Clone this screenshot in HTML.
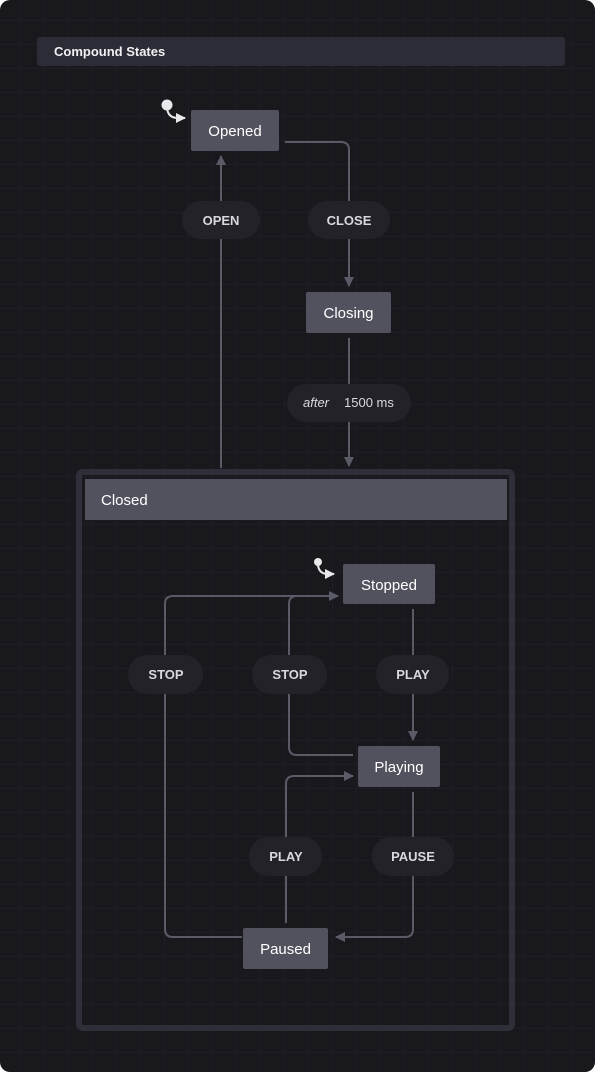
<!DOCTYPE html>
<html><head><style>
html,body{margin:0;padding:0;background:#fff;}
svg{display:block;}
text{font-family:"Liberation Sans",sans-serif;}
</style></head><body>
<svg width="595" height="1072" viewBox="0 0 595 1072" xmlns="http://www.w3.org/2000/svg">
<defs>
<pattern id="g" width="24" height="24" patternUnits="userSpaceOnUse" x="20" y="20">
<path d="M0 0H24M0 0V24" stroke="#23232b" stroke-width="1" fill="none"/>
</pattern>
<marker id="a" markerWidth="10" markerHeight="10" refX="9" refY="5" orient="auto" markerUnits="userSpaceOnUse">
<path d="M0 0L10 5L0 10z" fill="#5b5b68"/></marker>
<marker id="w" markerWidth="10" markerHeight="10" refX="9" refY="5" orient="auto" markerUnits="userSpaceOnUse">
<path d="M0 0L10 5L0 10z" fill="#e8e8ec"/></marker>
</defs>
<rect width="595" height="1072" rx="10" fill="#18181d"/>
<rect width="595" height="1072" rx="10" fill="url(#g)"/>
<rect x="37" y="37" width="528" height="29" rx="3" fill="#2c2c37"/>
<text x="54" y="56" fill="#f0f0f3" font-size="13" font-weight="bold">Compound States</text>

<g fill="none" stroke="#5b5b68" stroke-width="2">
<path d="M285 142H341Q349 142 349 150V286" marker-end="url(#a)"/>
<path d="M221 468V156" marker-end="url(#a)"/>
<path d="M349 338V466" marker-end="url(#a)"/>
<path d="M413 609V740" marker-end="url(#a)"/>
<path d="M413 792V929Q413 937 405 937H336" marker-end="url(#a)"/>
<path d="M286 923V784Q286 776 294 776H353" marker-end="url(#a)"/>
<path d="M242 937H173Q165 937 165 929V604Q165 596 173 596H338" marker-end="url(#a)"/>
<path d="M353 755H297Q289 755 289 747V604Q289 596 297 596"/>
</g>
<g fill="none" stroke="#e8e8ec" stroke-width="2">
<path d="M167 108Q168 118 178 118H185" marker-end="url(#w)"/>
<path d="M318 565Q319 574 328 574H334" marker-end="url(#w)"/>
</g>
<circle cx="167" cy="105" r="5.5" fill="#e8e8ec"/>
<circle cx="318" cy="562" r="4" fill="#e8e8ec"/>

<rect x="191" y="110" width="88" height="41" rx="2" fill="#52525e"/>
<text x="235" y="136" fill="#fff" font-size="15" text-anchor="middle">Opened</text>
<rect x="306" y="292" width="85" height="41" rx="2" fill="#52525e"/>
<text x="348.5" y="318" fill="#fff" font-size="15" text-anchor="middle">Closing</text>

<rect x="79" y="472" width="433" height="556" rx="4" fill="none" stroke="#2f2f3a" stroke-width="6"/>
<rect x="85" y="479" width="422" height="41" fill="#52525e"/>
<text x="101" y="505" fill="#fff" font-size="15">Closed</text>

<rect x="343" y="564" width="92" height="40" rx="2" fill="#52525e"/>
<text x="389" y="590" fill="#fff" font-size="15" text-anchor="middle">Stopped</text>
<rect x="358" y="746" width="82" height="41" rx="2" fill="#52525e"/>
<text x="399" y="772" fill="#fff" font-size="15" text-anchor="middle">Playing</text>
<rect x="243" y="928" width="85" height="41" rx="2" fill="#52525e"/>
<text x="285.5" y="954" fill="#fff" font-size="15" text-anchor="middle">Paused</text>

<g fill="#222228">
<rect x="182" y="201" width="78" height="38" rx="19"/>
<rect x="308" y="201" width="82" height="38" rx="19"/>
<rect x="287" y="384" width="124" height="38" rx="19"/>
<rect x="128" y="655" width="75" height="39" rx="19"/>
<rect x="252" y="655" width="75" height="39" rx="19"/>
<rect x="376" y="655" width="73" height="39" rx="19"/>
<rect x="249" y="837" width="73" height="39" rx="19"/>
<rect x="372" y="837" width="82" height="39" rx="19"/>
</g>
<g fill="#d8d8de" font-size="13" font-weight="bold" text-anchor="middle">
<text x="221" y="225">OPEN</text>
<text x="349" y="225">CLOSE</text>
<text x="166" y="679">STOP</text>
<text x="290" y="679">STOP</text>
<text x="413" y="679">PLAY</text>
<text x="286" y="861">PLAY</text>
<text x="413" y="861">PAUSE</text>
</g>
<text x="303" y="407" fill="#d8d8de" font-size="13" font-style="italic">after</text>
<text x="344" y="407" fill="#d8d8de" font-size="13">1500 ms</text>
</svg>
</body></html>
